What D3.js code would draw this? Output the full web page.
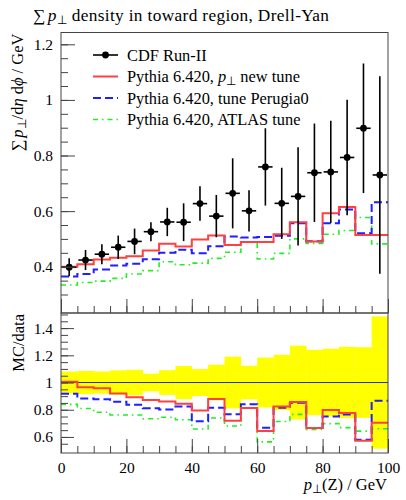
<!DOCTYPE html>
<html lang="en">
<head>
<meta charset="utf-8">
<title>Sum pT density, toward region</title>
<script src="https://cdn.jsdelivr.net/npm/d3@7"></script>
<style>
    body { margin: 0; background: #fff; }
    svg { display: block; }
    svg text { font-family: "Liberation Serif", "Times New Roman", Times, serif; fill: #000; }
</style>
</head>
<body>
<script>
    // bin edges in pT(Z) / GeV
    const binEdges = [0, 5, 10, 15, 20, 25, 30, 35, 40, 45, 50, 55, 60, 65, 70, 75, 80, 85, 90, 95, 100];
    // CDF Run-II points (bin centres) and errors
    const dataY = [0.398, 0.424, 0.445, 0.470, 0.491, 0.526, 0.561, 0.560, 0.627, 0.582,
                   0.664, 0.601, 0.759, 0.628, 0.653, 0.738, 0.741, 0.793, 0.898, 0.730];
    const dataErr = [0.032, 0.036, 0.036, 0.042, 0.046, 0.034, 0.051, 0.068, 0.062, 0.076,
                     0.126, 0.074, 0.139, 0.128, 0.177, 0.177, 0.184, 0.208, 0.233, 0.355];
    // MC histograms
    const ptNewTune = [0.400, 0.409, 0.426, 0.432, 0.438, 0.458, 0.483, 0.473, 0.498, 0.512,
                       0.478, 0.489, 0.489, 0.517, 0.560, 0.491, 0.592, 0.615, 0.514, 0.514];
    const perugia0 = [0.365, 0.374, 0.390, 0.404, 0.411, 0.427, 0.450, 0.461, 0.448, 0.474,
                      0.509, 0.505, 0.507, 0.511, 0.556, 0.492, 0.556, 0.606, 0.520, 0.632];
    const atlasTune = [0.334, 0.343, 0.348, 0.358, 0.374, 0.386, 0.418, 0.407, 0.413, 0.430,
                       0.452, 0.489, 0.428, 0.448, 0.500, 0.484, 0.517, 0.530, 0.577, 0.482];

    const yTicks = [0.4, 0.6, 0.8, 1, 1.2];
    const rTicks = [0.6, 0.8, 1, 1.2, 1.4];
    const xTicks = [0, 20, 40, 60, 80, 100];

    const width = 406, height = 500;
    const left = 61, right = 388;
    const topY = 32.5, midY = 313, botY = 453;
    const serif = "'Liberation Serif', 'Times New Roman', Times, serif";

    const svg = d3.select("body").append("svg")
        .attr("width", width)
        .attr("height", height)
        .attr("font-family", serif);

    const x = d3.scaleLinear().domain([0, 100]).range([left, right]);
    const y = d3.scaleLinear().domain([0.2335, 1.2425]).range([midY, topY]);
    const r = d3.scaleLinear().domain([0.482, 1.511]).range([botY, midY]);

    const series = [
        { vals: ptNewTune, color: "#ff4040", width: 2, dash: null },
        { vals: perugia0, color: "#1f1fff", width: 2, dash: "8,4" },
        { vals: atlasTune, color: "#22ee22", width: 1.6, dash: "5,4,1.5,4" }
    ];

    svg.append("defs").append("clipPath").attr("id", "clipR")
        .append("rect").attr("x", left).attr("y", midY)
        .attr("width", right - left).attr("height", botY - midY);

    // ---------- ratio band ----------
    const ratioG = svg.append("g").attr("clip-path", "url(#clipR)");
    ratioG.selectAll("rect.band")
        .data(dataY)
        .join("rect")
        .attr("x", (d, i) => x(binEdges[i]))
        .attr("width", (d, i) => x(binEdges[i + 1]) - x(binEdges[i]) + 0.3)
        .attr("y", (d, i) => r(1 + dataErr[i] / d))
        .attr("height", (d, i) => r(1 - dataErr[i] / d) - r(1 + dataErr[i] / d))
        .attr("fill", "#ffff00");

    ratioG.append("line")
        .attr("x1", left).attr("x2", right)
        .attr("y1", r(1)).attr("y2", r(1))
        .attr("stroke", "#333").attr("stroke-width", 1);

    function stepPoints(vals) {
        const pts = vals.map((v, i) => [binEdges[i], v]);
        pts.push([binEdges[binEdges.length - 1], vals[vals.length - 1]]);
        return pts;
    }

    const lineTop = d3.line().curve(d3.curveStepAfter).x(d => x(d[0])).y(d => y(d[1]));
    const lineRatio = d3.line().curve(d3.curveStepAfter).x(d => x(d[0])).y(d => r(d[1]));

    series.slice().reverse().forEach(s => {
        ratioG.append("path")
            .attr("d", lineRatio(stepPoints(s.vals.map((v, i) => v / dataY[i]))))
            .attr("fill", "none")
            .attr("stroke", s.color)
            .attr("stroke-width", s.width)
            .attr("stroke-dasharray", s.dash);
    });

    // ---------- top panel histograms ----------
    series.slice().reverse().forEach(s => {
        svg.append("path")
            .attr("d", lineTop(stepPoints(s.vals)))
            .attr("fill", "none")
            .attr("stroke", s.color)
            .attr("stroke-width", s.width)
            .attr("stroke-dasharray", s.dash);
    });

    // data points
    const pts = svg.append("g");
    pts.selectAll("line.ex")
        .data(dataY)
        .join("line")
        .attr("x1", (d, i) => x(binEdges[i]) + 1)
        .attr("x2", (d, i) => x(binEdges[i + 1]) - 1)
        .attr("y1", d => y(d)).attr("y2", d => y(d))
        .attr("stroke", "#000").attr("stroke-width", 1.6);
    pts.selectAll("line.ey")
        .data(dataY)
        .join("line")
        .attr("x1", (d, i) => x((binEdges[i] + binEdges[i + 1]) / 2))
        .attr("x2", (d, i) => x((binEdges[i] + binEdges[i + 1]) / 2))
        .attr("y1", (d, i) => y(d + dataErr[i]))
        .attr("y2", (d, i) => y(Math.max(d - dataErr[i], 0.2335)))
        .attr("stroke", "#000").attr("stroke-width", 1.6);
    pts.selectAll("circle")
        .data(dataY)
        .join("circle")
        .attr("cx", (d, i) => x((binEdges[i] + binEdges[i + 1]) / 2))
        .attr("cy", d => y(d))
        .attr("r", 3.4)
        .attr("fill", "#000");

    // ---------- frames and axes ----------
    const frameColor = "#444";
    [[topY, midY], [midY, botY]].forEach(([a, b]) => {
        svg.append("rect")
            .attr("x", left).attr("y", a)
            .attr("width", right - left).attr("height", b - a)
            .attr("fill", "none").attr("stroke", frameColor).attr("stroke-width", 1);
    });

    function styleAxis(g) {
        g.attr("font-family", serif);
        g.select(".domain").remove();
        g.selectAll(".tick line").attr("stroke", frameColor);
        g.selectAll(".tick text").attr("font-size", 15.5).attr("fill", "#000");
    }
    const fmt = d => d3.format("~g")(d);

    // top panel y
    svg.append("g").attr("transform", `translate(${left},0)`)
        .call(d3.axisLeft(y).tickValues(y.ticks(20).filter(t => t > 0.25)).tickSize(-7).tickFormat(""))
        .call(styleAxis);
    svg.append("g").attr("transform", `translate(${left},0)`)
        .call(d3.axisLeft(y).tickValues(yTicks).tickSize(-14).tickPadding(8).tickFormat(fmt))
        .call(styleAxis);
    // top panel x ticks (no labels)
    svg.append("g").attr("transform", `translate(0,${midY})`)
        .call(d3.axisBottom(x).ticks(20).tickSize(-7).tickFormat(""))
        .call(styleAxis);
    svg.append("g").attr("transform", `translate(0,${midY})`)
        .call(d3.axisBottom(x).tickValues(xTicks).tickSize(-14).tickFormat(""))
        .call(styleAxis);

    // ratio y
    svg.append("g").attr("transform", `translate(${left},0)`)
        .call(d3.axisLeft(r).tickValues(r.ticks(20).filter(t => t > 0.5)).tickSize(-7).tickFormat(""))
        .call(styleAxis);
    svg.append("g").attr("transform", `translate(${left},0)`)
        .call(d3.axisLeft(r).tickValues(rTicks).tickSize(-13).tickPadding(8).tickFormat(fmt))
        .call(styleAxis);
    // ratio x
    svg.append("g").attr("transform", `translate(0,${botY})`)
        .call(d3.axisBottom(x).ticks(20).tickSize(-7).tickFormat(""))
        .call(styleAxis);
    svg.append("g").attr("transform", `translate(0,${botY})`)
        .call(d3.axisBottom(x).tickValues(xTicks).tickSize(-14).tickPadding(9).tickFormat(fmt))
        .call(styleAxis);

    // ---------- texts ----------
    const title = svg.append("text").attr("x", 33).attr("y", 21).attr("font-size", 17.3)
        .attr("textLength", 296).attr("lengthAdjust", "spacing");
    title.append("tspan").text("\u2211");
    title.append("tspan").attr("font-style", "italic").attr("dx", 2).text("p");
    title.append("tspan").attr("font-size", 12).attr("dy", 3).text("\u22a5");
    title.append("tspan").attr("dy", -3).text(" density in toward region, Drell-Yan");

    const yl = svg.append("text")
        .attr("transform", `translate(23,${topY + 1}) rotate(-90)`)
        .attr("text-anchor", "end").attr("font-size", 16.5);
    yl.append("tspan").text("\u2211");
    yl.append("tspan").attr("font-style", "italic").attr("dx", 2).text("p");
    yl.append("tspan").attr("font-size", 11.5).attr("dy", 3).text("\u22a5");
    yl.append("tspan").attr("dy", -3).text("/d");
    yl.append("tspan").attr("font-style", "italic").text("\u03b7");
    yl.append("tspan").text(" d");
    yl.append("tspan").attr("font-style", "italic").text("\u03d5");
    yl.append("tspan").text(" / GeV");

    svg.append("text")
        .attr("transform", `translate(24,${midY + 1}) rotate(-90)`)
        .attr("text-anchor", "end").attr("font-size", 16.5)
        .text("MC/data");

    const xl = svg.append("text").attr("x", right - 1).attr("y", 490)
        .attr("text-anchor", "end").attr("font-size", 16.5);
    xl.append("tspan").attr("font-style", "italic").text("p");
    xl.append("tspan").attr("font-size", 11.5).attr("dy", 3).text("\u22a5");
    xl.append("tspan").attr("dy", -3).text("(Z) / GeV");

    // ---------- legend ----------
    const legend = svg.append("g");
    const legY = [55, 76.5, 98, 119.5];
    const lx1 = 93, lx2 = 118, tx = 127;
    legend.append("line").attr("x1", lx1).attr("x2", lx2).attr("y1", legY[0]).attr("y2", legY[0])
        .attr("stroke", "#000").attr("stroke-width", 1.6);
    legend.append("circle").attr("cx", (lx1 + lx2) / 2).attr("cy", legY[0]).attr("r", 3.4).attr("fill", "#000");
    series.forEach((s, i) => {
        legend.append("line").attr("x1", lx1).attr("x2", lx2)
            .attr("y1", legY[i + 1]).attr("y2", legY[i + 1])
            .attr("stroke", s.color).attr("stroke-width", s.width)
            .attr("stroke-dasharray", s.dash);
    });
    const legText = (i) => legend.append("text").attr("x", tx).attr("y", legY[i] + 5.5).attr("font-size", 16.4);
    legText(0).text("CDF Run-II");
    const t1 = legText(1);
    t1.append("tspan").text("Pythia 6.420, ");
    t1.append("tspan").attr("font-style", "italic").text("p");
    t1.append("tspan").attr("font-size", 11.5).attr("dy", 3).text("\u22a5");
    t1.append("tspan").attr("dy", -3).text(" new tune");
    legText(2).text("Pythia 6.420, tune Perugia0");
    legText(3).text("Pythia 6.420, ATLAS tune");
</script>
</body>
</html>
